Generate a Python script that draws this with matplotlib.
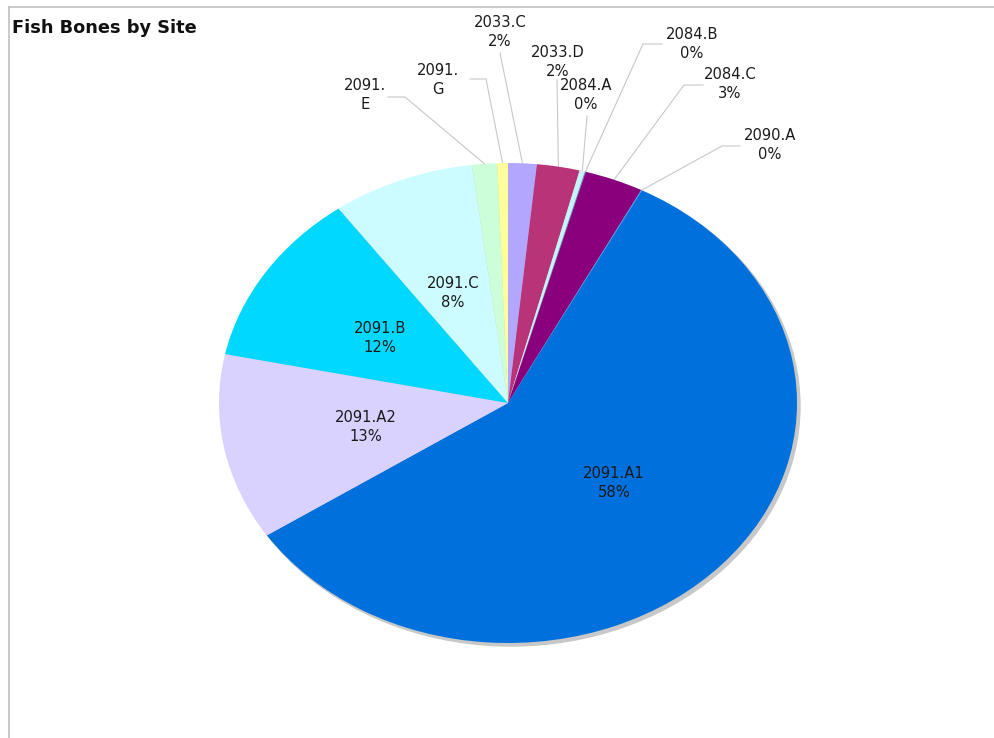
import numpy as np
import matplotlib
matplotlib.use("Agg")
import matplotlib.pyplot as plt
from matplotlib.patches import Ellipse
from matplotlib.lines import Line2D

# ---- data ----
sites = ["2033.C", "2033.D", "2084.A", "2084.B", "2084.C", "2090.A",
         "2091.A1", "2091.A2", "2091.B", "2091.C", "2091.E", "2091.G"]
share = [1.6, 2.4, 0.3, 0.05, 3.3, 0.05, 58.2, 12.6, 11.8, 8.0, 1.4, 0.6]
colors = ["#b3a6ff", "#b83378", "#c4f4f8", "#5a8fd0", "#8a007c", "#3399ff",
          "#0070dd", "#d9d2ff", "#00d8ff", "#ccfcff", "#ccffd9", "#ffff99"]
label_text = ["2033.C\n2%", "2033.D\n2%", "2084.A\n0%", "2084.B\n0%",
              "2084.C\n3%", "2090.A\n0%", "2091.A1\n58%", "2091.A2\n13%",
              "2091.B\n12%", "2091.C\n8%", "2091.\nE", "2091.\nG"]
title = "Fish Bones by Site"

# ---- layout (pixels) ----
W, H = 994, 738
cx, cy = 508, 403
rx, ry = 289, 240
s = rx / ry

fig = plt.figure(figsize=(W / 100, H / 100), dpi=100)
ax = fig.add_axes([0, 0, 1, 1])


def P(px, py):
    return px / s, H - py


# shadow
sx, sy = P(cx + 3, cy + 3)
ax.add_patch(Ellipse((sx, sy), 2 * ry, 2 * ry, color="#c8c8c8", zorder=0))

center = P(cx, cy)
wedges, _ = ax.pie(share, colors=colors, startangle=90, counterclock=False,
                   radius=ry, center=center,
                   wedgeprops=dict(linewidth=0))
for w in wedges:
    w.set_zorder(1)

ax.set_aspect("auto")
ax.set_xlim(0, W / s)
ax.set_ylim(0, H)
ax.axis("off")

txt_kw = dict(fontsize=10.6, color="#1a1a1a", ha="center", va="center",
              linespacing=1.3, family="DejaVu Sans")

# inside labels
inside = {"2091.A1": (614, 483), "2091.A2": (366, 427),
          "2091.B": (380, 338), "2091.C": (453, 293)}
# outside labels: text centre, elbow points of leader
outside = {
    "2033.C": ((500, 32), [(500, 53)]),
    "2033.D": ((558, 62), [(557, 80)]),
    "2084.A": ((586, 95), [(587, 116)]),
    "2084.B": ((692, 44), [(643, 44), (662, 44)]),
    "2084.C": ((730, 84), [(684, 85), (703, 85)]),
    "2090.A": ((770, 145), [(722, 146), (740, 146)]),
    "2091.G": ((438, 80), [(486, 79), (470, 79)]),
    "2091.E": ((365, 95), [(405, 97), (388, 97)]),
}

for w, name, lab in zip(wedges, sites, label_text):
    if name in inside:
        x, y = P(*inside[name])
        ax.text(x, y, lab, zorder=5, **txt_kw)
    else:
        (tx, ty), elbows = outside[name]
        mid = np.deg2rad((w.theta1 + w.theta2) / 2)
        ex = cx + rx * np.cos(mid)
        ey = cy - ry * np.sin(mid)
        pts = [(ex, ey)] + elbows
        xs, ys = zip(*[P(a, b) for a, b in pts])
        ax.plot(xs, ys, color="#c8c8c8", lw=0.8, zorder=0.5)
        x, y = P(tx, ty)
        ax.text(x, y, lab, zorder=5, **txt_kw)

# frame lines (top and left)
fig.add_artist(Line2D([9 / W, 1], [1 - 7 / H, 1 - 7 / H],
                      color="#c0c0c0", lw=1.2, transform=fig.transFigure))
fig.add_artist(Line2D([9 / W, 9 / W], [0, 1 - 7 / H],
                      color="#c0c0c0", lw=1.2, transform=fig.transFigure))

fig.text(12 / W, 1 - 28 / H, title, fontsize=12.8, fontweight="bold",
         color="#111111", ha="left", va="center", family="DejaVu Sans")

fig.savefig("out.png", dpi=100, facecolor="white")
